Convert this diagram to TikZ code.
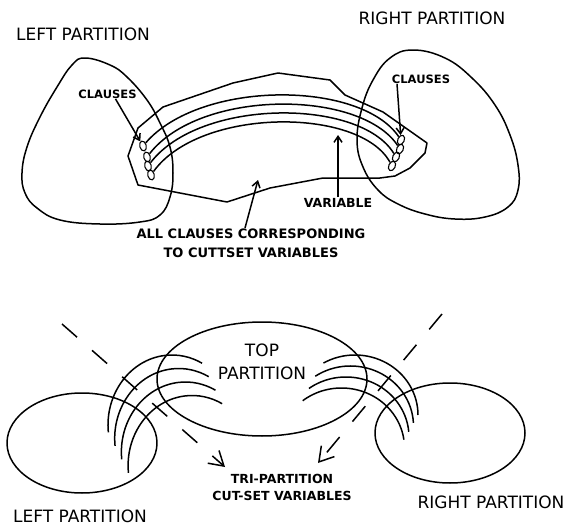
\documentclass[tikz,border=0pt]{standalone}
\usepackage{fontspec}
\setmainfont{DejaVu Sans}
\usetikzlibrary{arrows.meta, shapes.geometric}

\begin{document}
\begin{tikzpicture}[x=1pt, y=1pt, line width=1.5pt, line join=round,
    partlabel/.style={font=\fontsize{17}{23}\selectfont, inner sep=0pt, align=center},
    boldlabel/.style={font=\bfseries\fontsize{12.5}{18}\selectfont, inner sep=0pt, align=center},
    clause/.style={draw, ellipse, line width=1.1pt, minimum width=6.5pt, minimum height=10pt, inner sep=0pt},
    pointer/.style={-{Straight Barb[length=6pt, width=8pt]}},
    cutarrow/.style={dash pattern=on 20pt off 20pt, -{Straight Barb[length=14pt, width=17pt]}}]

    \useasboundingbox (0,0) rectangle (574,-525);

    % upper picture
    \node[partlabel, anchor=base] (leftTop) at (83,-40) {LEFT PARTITION};
    \node[partlabel, anchor=base] (rightTop) at (432,-24) {RIGHT PARTITION};
    \node[boldlabel, font=\bfseries\fontsize{11.5}{14}\selectfont, anchor=base] (clausesL) at (107.5,-98) {CLAUSES};
    \node[boldlabel, font=\bfseries\fontsize{11.5}{14}\selectfont, anchor=base] (clausesR) at (421,-83) {CLAUSES};
    \node[boldlabel, anchor=base] (variable) at (338,-207) {VARIABLE};
    \node[boldlabel, font=\bfseries\fontsize{13}{19}\selectfont, anchor=north] (allClauses) at (251,-228)
        {ALL CLAUSES CORRESPONDING\\TO CUTTSET VARIABLES};

    \draw plot[smooth cycle, tension=0.7] coordinates {(85,-58) (110,-65) (127,-77) (147,-100) (160,-123)
        (170,-147) (173,-173) (170,-197) (160,-215) (140,-222) (100,-224) (60,-220) (37,-208)
        (25,-193) (22,-173) (27,-147) (40,-117) (57,-87) (72,-65)};
    \draw plot[smooth cycle, tension=0.7] coordinates {(413,-50) (445,-58) (472,-78) (495,-105) (510,-135)
        (518,-165) (518,-190) (508,-207) (485,-217) (455,-219) (425,-214) (398,-204) (378,-190)
        (363,-167) (357,-140) (362,-108) (373,-80) (390,-58)};
    \draw (163,-107) -- (233,-83) -- (278,-73) -- (330,-80) -- (345,-95) -- (383,-112) -- (427,-143)
        -- (425,-153) -- (410,-168) -- (395,-176) -- (380,-178) -- (323,-178) -- (270,-188)
        -- (227,-202) -- (138,-185) -- (128,-156) -- (138,-128) -- cycle;

    \node[clause, rotate=15] (l1) at (143,-146) {};
    \node[clause, rotate=15] (l2) at (147,-157) {};
    \node[clause, rotate=15] (l3) at (148,-166) {};
    \node[clause, rotate=15] (l4) at (151,-175) {};
    \node[clause, rotate=-25] (r1) at (401,-140) {};
    \node[clause, rotate=-25] (r2) at (400,-149) {};
    \node[clause, rotate=-25] (r3) at (396,-157) {};
    \node[clause, rotate=-25] (r4) at (392,-166) {};

    \foreach \i/\c in {1/80, 2/89, 3/98, 4/107}
        \draw (l\i) .. controls (200,-\c) and (360,-\c) .. (r\i);

    \coordinate (varTip) at (338,-135);
    \coordinate (allTip) at (258,-180);

    \path[pointer]
        ([xshift=8pt]clausesL.south) edge (l1)
        ([xshift=-24pt]clausesR.south) edge (r1)
        (variable.north) edge (varTip)
        ([xshift=-6pt]allClauses.north) edge (allTip);

    % lower picture
    \draw (82,-443) ellipse [x radius=75, y radius=50];
    \draw (262,-379) ellipse [x radius=105, y radius=57];
    \draw (450,-433) ellipse [x radius=75, y radius=50];

    \foreach \k in {0,...,3}
        \draw ([shift={(6.7*\k,-13.5*\k)}]172,-425) ++(186:64pt and 70pt)
            arc[start angle=186, end angle=62, x radius=64, y radius=70];
    \foreach \k/\s/\e in {0/120/0, 1/124/3, 2/126/5, 3/128/8}
        \draw ([shift={(-4.5*\k,-11*\k)}]355,-415) ++(\s:63pt and 60pt)
            arc[start angle=\s, end angle=\e, x radius=63, y radius=60];

    \node[partlabel, anchor=north] (topPart) at (262,-343) {TOP\\PARTITION};
    \node[partlabel, anchor=base] (leftBot) at (80,-522) {LEFT PARTITION};
    \node[partlabel, anchor=base] (rightBot) at (491,-508) {RIGHT PARTITION};
    \node[boldlabel, font=\bfseries\fontsize{12.5}{17}\selectfont, anchor=north] (triCut) at (282,-473)
        {TRI-PARTITION\\CUT-SET VARIABLES};

    \coordinate (cutLstart) at (62,-324);
    \coordinate (cutLend) at (225,-467);
    \coordinate (cutRstart) at (442,-314);
    \coordinate (cutRend) at (318,-463);

    \path[cutarrow]
        (cutLstart) edge (cutLend)
        (cutRstart) edge (cutRend);
\end{tikzpicture}
\end{document}
